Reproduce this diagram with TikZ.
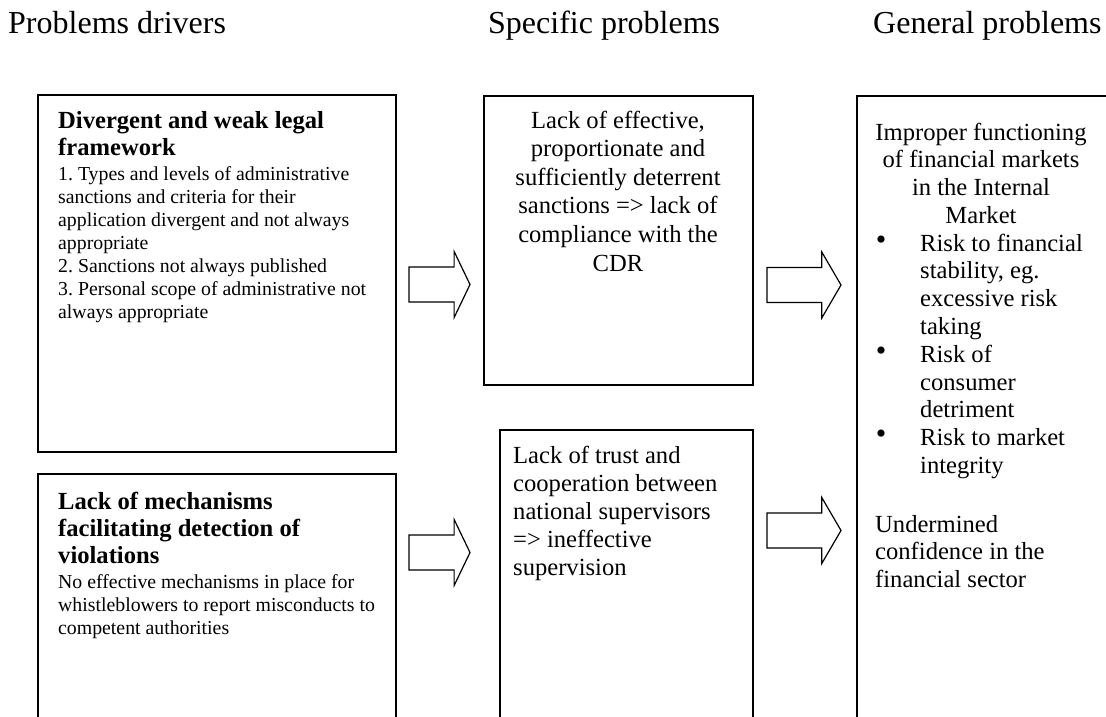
\documentclass[tikz,border=0pt]{standalone}
\usepackage{fontspec}
\setmainfont{Liberation Serif}
\frenchspacing
\begin{document}
\begin{tikzpicture}[x=1pt,y=-1pt,
  box/.style={draw, line width=1.5pt, inner sep=0pt, outer sep=0pt, anchor=north west},
  head/.style={inner sep=0pt, anchor=base west, font=\fontsize{32}{38}\selectfont},
  big/.style={inner sep=0pt, font=\fontsize{24.6}{27.8}\selectfont},
  bigc/.style={inner sep=0pt, font=\fontsize{24.6}{28.6}\selectfont},
  bigd/.style={inner sep=0pt, font=\fontsize{24.6}{28}\selectfont},
  bigb/.style={inner sep=0pt, anchor=base west, align=left, font=\fontsize{24.6}{27.3}\selectfont\bfseries},
  small/.style={inner sep=0pt, anchor=base west, align=left, font=\fontsize{19.8}{23}\selectfont},
  bul/.style={inner sep=0pt, anchor=base, font=\fontsize{30}{30}\selectfont},
  arrowline/.style={draw, line width=1.2pt, line join=miter, fill=white},
  pics/blockarrow/.style={code={
    \draw[arrowline] (0,-17.5) -- ({0.74*#1},-17.5) -- ({0.74*#1},-33) -- (#1,0)
      -- ({0.74*#1},33) -- ({0.74*#1},17.5) -- (0,17.5) -- cycle;}}
]
\useasboundingbox (0,0) rectangle (1106,717);
\clip (0,0) rectangle (1106,717);

% column headings
\node[head] (h1) at (8,34) {Problems drivers};
\node[head] (h2) at (488,34) {Specific problems};
\node[head] (h3) at (873,34) {General problems};

% boxes
\node[box, minimum width=358pt, minimum height=357pt] (bA) at (38,95) {};
\node[box, minimum width=358pt, minimum height=260pt] (bB) at (38,474) {};
\node[box, minimum width=269pt, minimum height=289pt] (bC) at (484,96) {};
\node[box, minimum width=253pt, minimum height=304pt] (bD) at (500,430) {};
\node[box, minimum width=253pt, minimum height=640pt] (bE) at (857,96) {};

% box A (anchors at the baseline of the last line)
\node[bigb] (tA1) at (58,155.3) {Divergent and weak legal\\framework};
\node[small] (tA2) at (58,318) {1. Types and levels of administrative\\sanctions and criteria for their\\application divergent and not always\\appropriate\\2. Sanctions not always published\\3. Personal scope of administrative not\\always appropriate};

% box B
\node[bigb] (tB1) at (58,563.6) {Lack of mechanisms\\facilitating detection of\\violations};
\node[small] (tB2) at (58,634) {No effective mechanisms in place for\\whistleblowers to report misconducts to\\competent authorities};

% box C
\node[bigc, anchor=base, align=center] (tC) at (618,271) {Lack of effective,\\proportionate and\\sufficiently deterrent\\sanctions => lack of\\compliance with the\\CDR};

% box D
\node[bigd, anchor=base west, align=left] (tD) at (513,575) {Lack of trust and\\cooperation between\\national supervisors\\=> ineffective\\supervision};

% box E
\node[big, anchor=base, align=center] (tE1) at (981,223.4) {Improper functioning\\of financial markets\\in the Internal\\Market};
\node[bul] (u1) at (881,249) {•};
\node[big, anchor=base west, align=left] (tE2) at (920,334.4) {Risk to financial\\stability, eg.\\excessive risk\\taking};
\node[bul] (u2) at (881,360.2) {•};
\node[big, anchor=base west, align=left] (tE3) at (920,417.8) {Risk of\\consumer\\detriment};
\node[bul] (u3) at (881,443.6) {•};
\node[big, anchor=base west, align=left] (tE4) at (920,473.4) {Risk to market\\integrity};
\node[big, anchor=base west, align=left] (tE5) at (875,587.6) {Undermined\\confidence in the\\financial sector};

% block arrows
\coordinate (a1) at (409,284.5);
\coordinate (a2) at (409,552.5);
\coordinate (a3) at (767,285);
\coordinate (a4) at (767,530.5);
\pic at (a1) {blockarrow=61};
\pic at (a2) {blockarrow=61};
\pic at (a3) {blockarrow=74};
\pic at (a4) {blockarrow=74};
\end{tikzpicture}
\end{document}
